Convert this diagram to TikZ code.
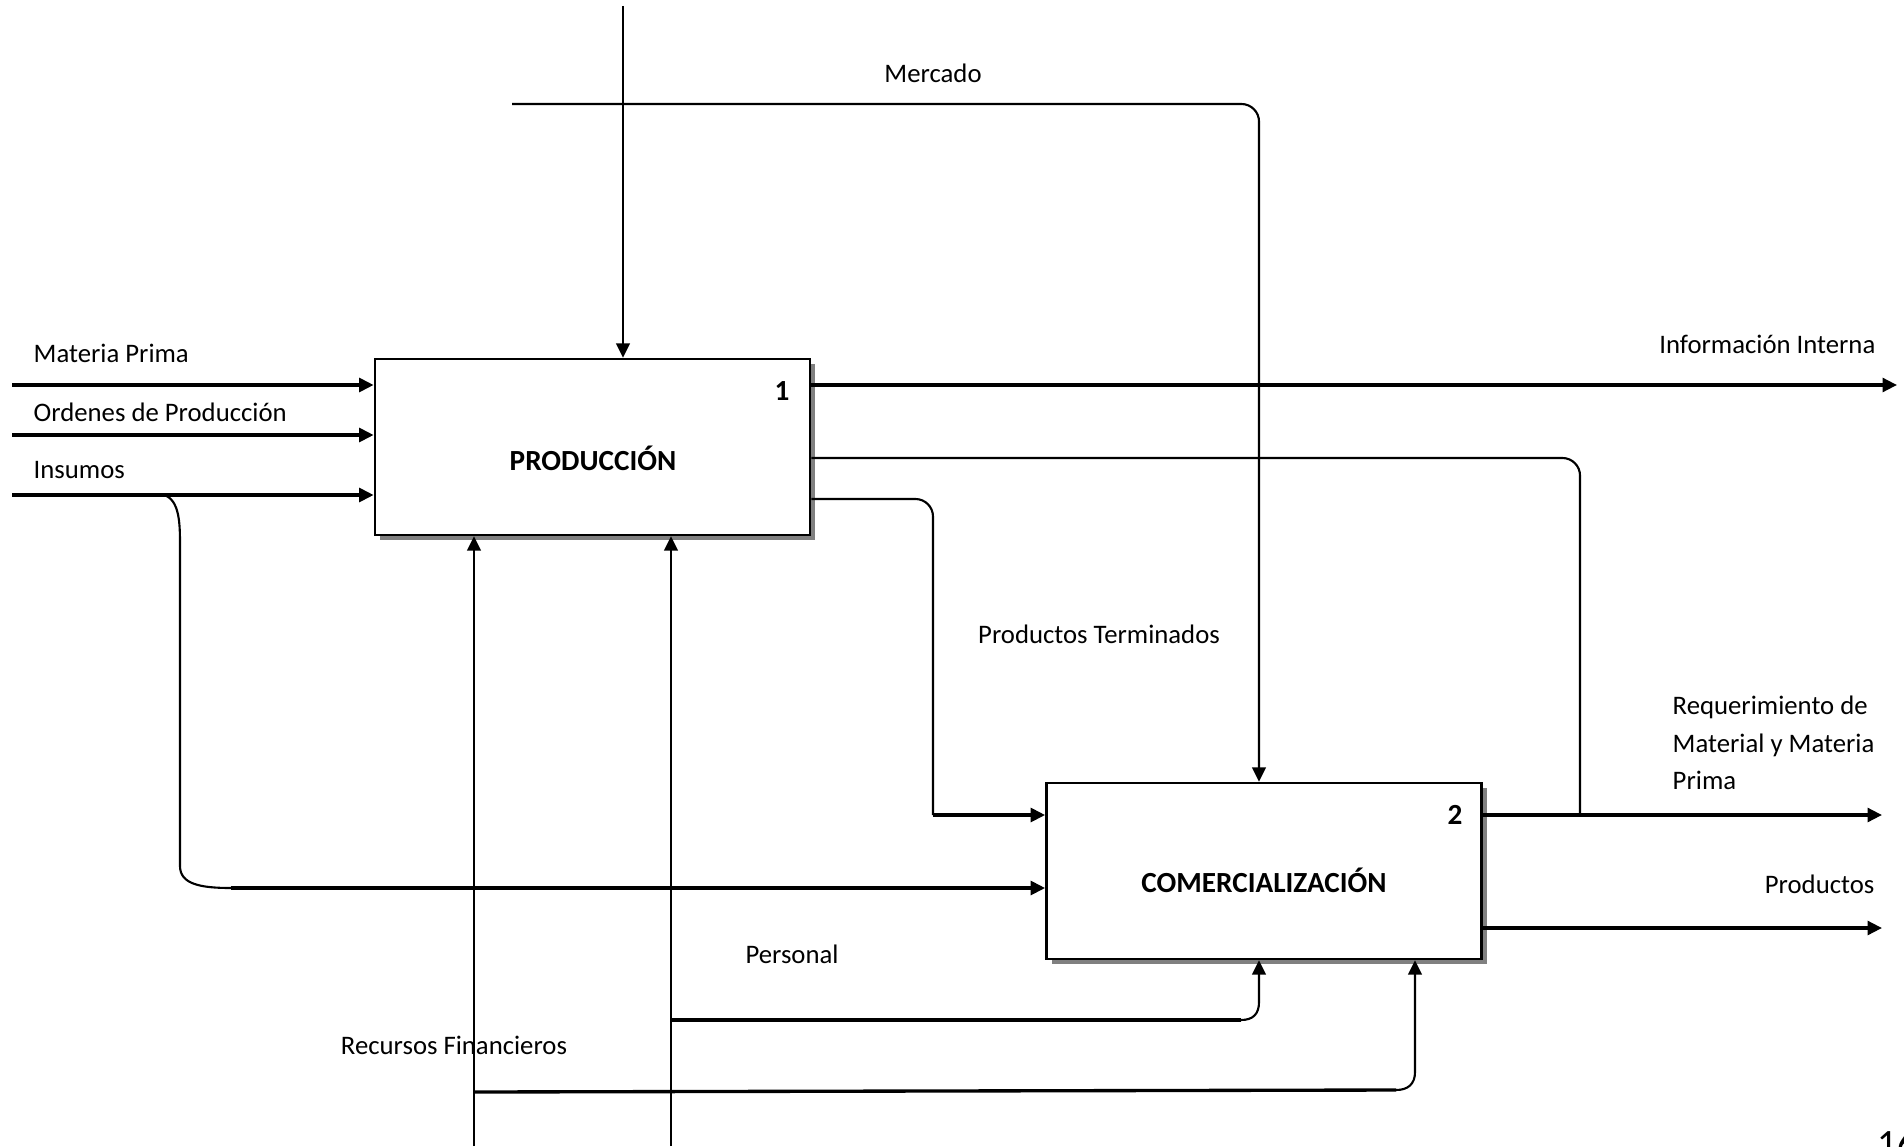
\documentclass[tikz,border=0pt]{standalone}
\usepackage{fontspec}
\setmainfont{Carlito}
\usetikzlibrary{arrows.meta,shadows}
\begin{document}
\begin{tikzpicture}[x=0.01cm,y=-0.01cm,
 thickline/.style={line width=0.95pt},
 thinline/.style={line width=0.6pt},
 arr/.style={-{Triangle[length=4.1pt,width=3.9pt]}},
 box/.style={draw,line width=0.7pt,fill=white,minimum width=4.35cm,minimum height=1.76cm,inner sep=0pt,
   drop shadow={shadow xshift=1.5pt,shadow yshift=-1.5pt,fill=black!50,opacity=1}},
 lbl/.style={font=\fontsize{7.6pt}{10.7pt}\selectfont,inner sep=0pt},
 blbl/.style={font=\fontsize{8.3pt}{10pt}\selectfont\bfseries,inner sep=0pt}]
\useasboundingbox (0,0) rectangle (1904,1146);

% labels (drawn first, lines go over them)
\node[lbl] (lmk) at (933,73) {Mercado};
\node[lbl,anchor=west] (lmp) at (33,353) {Materia Prima};
\node[lbl,anchor=west] (lop) at (33,412) {Ordenes de Producción};
\node[lbl,anchor=west] (lin) at (33,470) {Insumos};
\node[lbl,anchor=east] (lii) at (1876,344) {Información Interna};
\node[lbl] (lpt) at (1099,634) {Productos Terminados};
\node[lbl,anchor=west,align=left] (lrq) at (1672,743) {Requerimiento de\\Material y Materia\\Prima};
\node[lbl,anchor=east] (lpr) at (1875,884) {Productos};
\node[lbl] (lpe) at (792,954) {Personal};
\node[lbl] (lrf) at (454,1045) {Recursos Financieros};
\node[anchor=north west,inner sep=0pt,font=\fontsize{11pt}{13pt}\selectfont] (pg) at (1877,1130) {16};

% boxes
\node[box] (p1) at (592.5,447) {};
\node[box] (p2) at (1264,871) {};
\node[blbl] (p1t) at (593,458) {PRODUCCIÓN};
\node[blbl] (p1n) at (782,391) {1};
\node[blbl] (p2t) at (1264,880) {COMERCIALIZACIÓN};
\node[blbl] (p2n) at (1455,815) {2};

% coordinates
\coordinate (mpS) at (12,385);
\coordinate (opS) at (12,435);
\coordinate (inS) at (12,495);
\coordinate (inB) at (164,495);
\coordinate (inE) at (231,888);
\coordinate (ctlS) at (623,6);
\coordinate (mkS) at (512,104);
\coordinate (mkC) at (1259,104);
\coordinate (iiE) at (1897,385);
\coordinate (fbA) at (1580,458);
\coordinate (rqJ) at (1580,815);
\coordinate (ptA) at (933,499);
\coordinate (ptB) at (933,815);
\coordinate (rqE) at (1882,815);
\coordinate (prE) at (1882,928);
\coordinate (rfS) at (474,1146);
\coordinate (peS) at (671,1146);
\coordinate (rfB) at (474,1092);
\coordinate (rfC) at (1396,1090);
\coordinate (rfX) at (1415,1090);
\coordinate (peB) at (671,1020);
\coordinate (peC) at (1241,1020);
\coordinate (peX) at (1259,1020);

% inputs to 1
\draw[thickline,arr] (mpS) -- (mpS -| p1.west);
\draw[thickline,arr] (opS) -- (opS -| p1.west);
\draw[thickline,arr] (inS) -- (inS -| p1.west);
% insumos branch to 2
\draw[thinline] (inB) .. controls (180,500) and (180,525) .. (180,546) -- (180,866) .. controls (180,884) and (200,888) .. (inE);
\draw[thickline,arr] (inE) -- (inE -| p2.west);

% controls
\draw[thinline,arr] (ctlS) -- (ctlS |- p1.north);
\draw[thinline,arr,rounded corners=5pt] (mkS) -- (mkC) -- (mkC |- p2.north);

% outputs of 1
\draw[thickline,arr] (mpS -| p1.east) -- (iiE);
\draw[thinline,rounded corners=5pt] (fbA -| p1.east) -- (fbA) -- (rqJ);
\draw[thinline,rounded corners=5pt] (ptA -| p1.east) -- (ptA) -- (ptB);
\draw[thickline,arr] (ptB) -- (ptB -| p2.west);

% outputs of 2
\draw[thickline,arr] (rqE -| p2.east) -- (rqE);
\draw[thickline,arr] (prE -| p2.east) -- (prE);

% mechanisms
\draw[thinline,arr] (rfS) -- (rfS |- p1.south);
\draw[thinline,arr] (peS) -- (peS |- p1.south);
\draw[thickline] (peB) -- (peC);
\draw[thinline,arr] (peC) .. controls (1253,1020) and (1259,1014) .. (1259,1002) -- (peX |- p2.south);
\draw[thickline] (rfB) -- (rfC);
\draw[thinline,arr] (rfC) .. controls (1408,1090) and (1415,1084) .. (1415,1072) -- (rfX |- p2.south);
\end{tikzpicture}
\end{document}
